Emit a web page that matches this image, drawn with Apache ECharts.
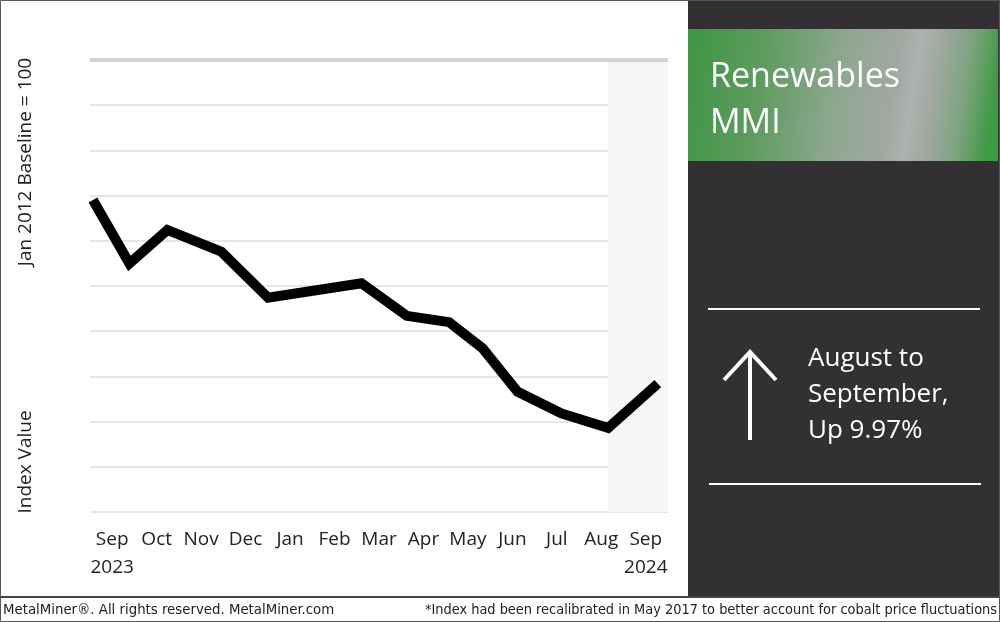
<!DOCTYPE html>
<html>
<head>
<meta charset="utf-8">
<script src="https://cdn.jsdelivr.net/npm/echarts@6/dist/echarts.min.js"></script>
<style>
html,body{margin:0;padding:0;background:#fff;}
#c{width:1000px;height:622px;}
</style>
</head>
<body>
<div id="c"></div>
<script>
// Axis tick labels (months)
var monthLabels = ['Sep\n2023','Oct','Nov','Dec','Jan','Feb','Mar','Apr','May','Jun','Jul','Aug','Sep\n2024'];
// Observation dates of the index line
var obsDates = ['2023-09-03','2023-09-28','2023-10-24','2023-11-30','2024-01-01','2024-03-05','2024-04-05','2024-05-04','2024-05-27','2024-06-20','2024-07-20','2024-08-21','2024-09-24'];
// Index values (Jan 2012 baseline = 100 scale, estimated)
var indexValues = [745, 675, 712, 688, 637, 653, 617, 610, 581, 533, 509, 493, 542];
// Highlighted latest period
var highlightStart = '2024-08-21';

var seriesData = obsDates.map(function(d, i){ return [d, indexValues[i]]; });

var chart = echarts.init(document.getElementById('c'), null, {renderer:'canvas'});
var font = "'Open Sans', 'Noto Sans', sans-serif";
var condensed = "'Liberation Sans Narrow', 'DejaVu Sans Condensed', 'Roboto Condensed', sans-serif";

var option = {
  animation: false,
  backgroundColor: '#ffffff',
  grid: { left: 90, right: 332, top: 60, bottom: 110, containLabel: false },
  xAxis: [
    {
      type: 'category',
      data: monthLabels,
      boundaryGap: true,
      axisLine: { show: false },
      axisTick: { show: false },
      axisLabel: { color: '#222', fontFamily: font, fontSize: 19, lineHeight: 28, margin: 14, interval: 0 }
    },
    {
      type: 'time',
      min: '2023-09-01',
      max: '2024-10-01',
      show: false
    }
  ],
  yAxis: {
    type: 'value',
    min: 400, max: 900, interval: 50,
    axisLabel: { show: false },
    axisLine: { show: false },
    axisTick: { show: false },
    splitLine: { lineStyle: { color: '#dedede', width: 1.5 } }
  },
  series: [{
    type: 'line',
    xAxisIndex: 1,
    data: seriesData,
    showSymbol: false,
    symbol: 'none',
    lineStyle: { color: '#000', width: 10, join: 'miter' },
    z: 5,
    markArea: {
      silent: true,
      itemStyle: { color: '#f5f6f5' },
      data: [[{ xAxis: highlightStart }, { xAxis: '2024-10-01' }]]
    },
    markLine: {
      silent: true,
      symbol: 'none',
      label: { show: false },
      lineStyle: { color: '#d2d2d2', width: 4, type: 'solid' },
      data: [{ yAxis: 900 }]
    }
  }],
  graphic: [
    // right dark panel
    { type: 'rect', shape: { x: 688, y: 0, width: 312, height: 596 }, style: { fill: '#323032' }, z: 0 },
    // green title box
    { type: 'rect', shape: { x: 688, y: 29, width: 310, height: 132 },
      style: { fill: new echarts.graphic.LinearGradient(0, 0, 1, 0.35, [
        { offset: 0, color: '#3e9543' },
        { offset: 0.25, color: '#5e9b5f' },
        { offset: 0.5, color: '#8ea78f' },
        { offset: 0.68, color: '#a2a8a3' },
        { offset: 0.74, color: '#afb2af' },
        { offset: 0.78, color: '#a5aba6' },
        { offset: 0.9, color: '#7fa480' },
        { offset: 1, color: '#3f9a45' }
      ]) }, z: 1 },
    { type: 'text', x: 710, y: 94, style: { text: 'Renewables', fill: '#fff', fontFamily: font, fontSize: 34, textVerticalAlign: 'bottom' }, z: 2 },
    { type: 'text', x: 710, y: 140, style: { text: 'MMI', fill: '#fff', fontFamily: font, fontSize: 34, textVerticalAlign: 'bottom' }, z: 2 },
    // separators
    { type: 'line', shape: { x1: 708, y1: 309, x2: 980, y2: 309 }, style: { stroke: '#fff', lineWidth: 2 }, z: 2 },
    { type: 'line', shape: { x1: 709, y1: 484, x2: 981, y2: 484 }, style: { stroke: '#fff', lineWidth: 2 }, z: 2 },
    // arrow
    { type: 'polyline', shape: { points: [[750, 440], [750, 351]] }, style: { stroke: '#fff', lineWidth: 4, fill: null }, z: 2 },
    { type: 'polyline', shape: { points: [[724, 380], [750, 352], [776, 380]] }, style: { stroke: '#fff', lineWidth: 4, fill: null, lineJoin: 'miter' }, z: 2 },
    { type: 'text', x: 808, y: 372, style: { text: 'August to', fill: '#fff', fontFamily: font, fontSize: 26, textVerticalAlign: 'bottom' }, z: 2 },
    { type: 'text', x: 808, y: 408, style: { text: 'September,', fill: '#fff', fontFamily: font, fontSize: 26, textVerticalAlign: 'bottom' }, z: 2 },
    { type: 'text', x: 808, y: 444, style: { text: 'Up 9.97%', fill: '#fff', fontFamily: font, fontSize: 26, textVerticalAlign: 'bottom' }, z: 2 },
    // y axis names
    { type: 'text', x: 26, y: 162, rotation: Math.PI / 2,
      style: { text: 'Jan 2012 Baseline = 100', fill: '#222', fontFamily: font, fontSize: 19, textAlign: 'center', textVerticalAlign: 'middle' }, z: 2 },
    { type: 'text', x: 26, y: 462, rotation: Math.PI / 2,
      style: { text: 'Index Value', fill: '#222', fontFamily: font, fontSize: 19, textAlign: 'center', textVerticalAlign: 'middle' }, z: 2 },
    // footer separator and border
    { type: 'rect', shape: { x: 0, y: 596, width: 1000, height: 2 }, style: { fill: '#444' }, z: 3 },
    { type: 'rect', shape: { x: 0.5, y: 0.5, width: 999, height: 621 }, style: { fill: null, stroke: '#555', lineWidth: 1 }, z: 3 },
    // footer texts
    { type: 'text', x: 3, y: 610, style: { text: 'MetalMiner\u00AE. All rights reserved. MetalMiner.com', fill: '#222', fontFamily: condensed, fontSize: 14.8, textVerticalAlign: 'middle' }, z: 3 },
    { type: 'text', x: 997, y: 610, style: { text: '*Index had been recalibrated in May 2017 to better account for cobalt price fluctuations', fill: '#222', fontFamily: condensed, fontSize: 14.4, textAlign: 'right', textVerticalAlign: 'middle' }, z: 3 }
  ]
};
chart.setOption(option);
</script>
</body>
</html>
